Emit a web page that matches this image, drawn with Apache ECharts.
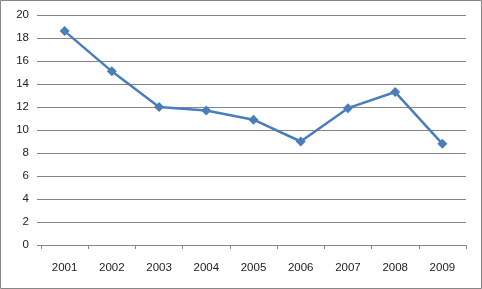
<!DOCTYPE html>
<html>
<head>
<meta charset="utf-8">
<script src="https://cdn.jsdelivr.net/npm/echarts@6/dist/echarts.min.js"></script>
<style>
html,body{margin:0;padding:0;background:#fff;}
#c{width:482px;height:289px;}
</style>
</head>
<body>
<div id="c"></div>
<script>
var categories = ['2001','2002','2003','2004','2005','2006','2007','2008','2009'];
var values = [18.6, 15.1, 12.0, 11.7, 10.9, 9.0, 11.9, 13.3, 8.8];
var yTicks = [0, 2, 4, 6, 8, 10, 12, 14, 16, 18, 20];

var chart = echarts.init(document.getElementById('c'), null, {renderer: 'canvas'});
var lineCol = '#868686';
chart.setOption({
  animation: false,
  backgroundColor: '#fff',
  graphic: [{
    type: 'rect',
    shape: {x: 0.5, y: 0.5, width: 481, height: 288},
    style: {fill: 'none', stroke: lineCol, lineWidth: 1},
    silent: true
  }],
  grid: {left: 41, right: 16, top: 15, bottom: 44},
  xAxis: {
    type: 'category',
    data: categories,
    boundaryGap: true,
    axisLine: {show: true, lineStyle: {color: lineCol, width: 1}},
    axisTick: {show: true, length: 4, lineStyle: {color: lineCol}},
    axisLabel: {color: '#222', fontFamily: 'Liberation Sans', fontSize: 11.5, margin: 17}
  },
  yAxis: {
    type: 'value',
    min: yTicks[0],
    max: yTicks[yTicks.length - 1],
    interval: 2,
    axisLine: {show: false},
    axisTick: {show: true, length: 4, lineStyle: {color: lineCol}},
    splitLine: {show: true, lineStyle: {color: lineCol, width: 1}},
    axisLabel: {color: '#222', fontFamily: 'Liberation Sans', fontSize: 11.5, margin: 12}
  },
  series: [{
    type: 'line',
    data: values,
    symbol: 'diamond',
    symbolSize: 10,
    lineStyle: {color: '#4a7ebb', width: 2.5},
    itemStyle: {color: '#4a7ebb'}
  }]
});
</script>
</body>
</html>
